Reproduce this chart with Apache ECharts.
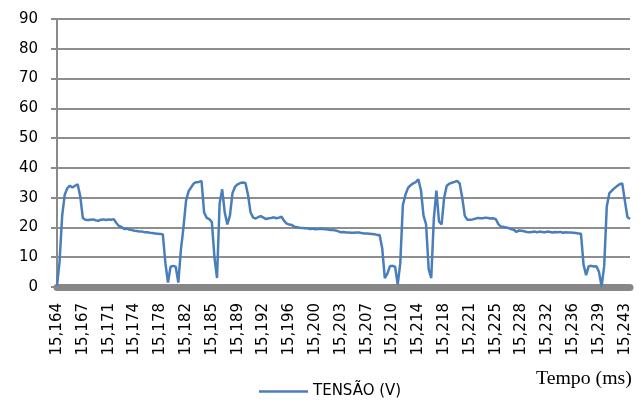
<!DOCTYPE html>
<html lang="pt">
	<head>
		<meta charset="utf-8">
		<title>Tensão</title>
		<style type="text/css">
			html,body{margin:0;padding:0;background:#fff;}
			#echarts{width:641px;height:403px;}
		</style>
	</head>
	<body>
		<div id="echarts"></div>
		<script src="https://cdn.jsdelivr.net/npm/echarts/dist/echarts.min.js" type="text/javascript" charset="utf-8"></script>
		<script type="text/javascript">
// rótulos do eixo x (um a cada 10 amostras)
var tickLabels = ['15,164','15,167','15,171','15,174','15,178','15,182','15,185','15,189','15,192','15,196','15,200',
	'15,203','15,207','15,210','15,214','15,218','15,221','15,225','15,228','15,232','15,236','15,239','15,243'];

// TENSÃO (V)
var tensao = [
	0.5, 8.5, 24, 31, 33.2, 34, 33.4, 34, 34.5, 30.5,
	23.2, 22.6, 22.5, 22.6, 22.7, 22.4, 22.2, 22.6, 22.7, 22.5,
	22.7, 22.6, 22.8, 21.5, 20.5, 20.2, 19.5, 19.6, 19.3, 19.1,
	18.9, 18.8, 18.6, 18.6, 18.4, 18.4, 18.2, 18.1, 18.0, 17.9,
	17.8, 17.7, 8, 1.5, 6.8, 7.1, 6.8, 1.5, 12.5, 20,
	29, 32.2, 33.5, 34.8, 35.2, 35.3, 35.6, 25, 23.2, 22.8,
	21.8, 10, 3, 28, 32.8, 25, 21, 24, 31.6, 33.7,
	34.5, 34.9, 35.1, 34.9, 31, 25, 23.3, 23, 23.5, 23.8,
	23.3, 22.8, 23.1, 23.2, 23.4, 23.1, 23.3, 23.6, 22.2, 21.3,
	21.0, 20.8, 20.2, 20.1, 19.9, 19.8, 19.7, 19.7, 19.5, 19.6,
	19.4, 19.5, 19.6, 19.5, 19.4, 19.3, 19.1, 19.1, 19.0, 18.7,
	18.4, 18.5, 18.3, 18.3, 18.2, 18.2, 18.3, 18.3, 18.1, 18.0,
	18.0, 17.9, 17.8, 17.7, 17.5, 17.5, 13, 3, 4.5, 7,
	7.1, 6.8, 0.8, 8, 27.5, 31, 33.3, 34.2, 34.8, 35.2,
	36.2, 32.5, 24, 21, 6, 3, 23, 32.4, 22, 21,
	30, 34, 34.7, 35, 35.3, 35.6, 34.8, 30, 23.9, 22.6,
	22.6, 22.7, 22.9, 23.2, 23.1, 23.1, 23.3, 23.2, 23.0, 23.1,
	22.8, 21.1, 20.3, 20.2, 20.0, 19.8, 19.4, 19.2, 18.5, 19.0,
	18.9, 18.7, 18.5, 18.4, 18.5, 18.6, 18.4, 18.6, 18.5, 18.4,
	18.6, 18.5, 18.3, 18.5, 18.4, 18.5, 18.2, 18.4, 18.3, 18.3,
	18.2, 18.1, 18.0, 17.9, 7.5, 4, 7, 7.1, 6.9, 7.0,
	5, 0.2, 7, 27, 31.5, 32.4, 33.2, 33.9, 34.5, 34.8,
	29, 23.5, 22.8
];

var yMin = 0, yMax = 90, yStep = 10;

var categories = tensao.map(function (v, i) { return i; });

var myChart = echarts.init(document.getElementById('echarts'));

myChart.setOption({
	animation: false,
	grid: {left: 57, right: 11, top: 19, bottom: 116, containLabel: false},
	title: {
		text: 'Tempo (ms)',
		left: 536,
		top: 369,
		padding: 0,
		textStyle: {fontFamily: 'Liberation Serif', fontSize: 19.8, fontWeight: 'normal', color: '#000'}
	},
	legend: {
		data: ['TENSÃO (V)'],
		icon: 'rect',
		left: 259,
		top: 384,
		padding: 0,
		itemWidth: 49,
		itemHeight: 2.5,
		itemGap: 5,
		textStyle: {fontFamily: 'DejaVu Sans', fontSize: 15, color: '#000'}
	},
	xAxis: {
		type: 'category',
		data: categories,
		boundaryGap: false,
		offset: 3,
		axisLine: {lineStyle: {color: '#878787', width: 7}},
		axisTick: {show: false},
		axisLabel: {
			interval: 9,
			rotate: 90,
			margin: 13,
			fontFamily: 'DejaVu Sans',
			fontSize: 15,
			color: '#000',
			formatter: function (v, idx) { return tickLabels[idx / 10] || ''; }
		},
		splitLine: {show: false}
	},
	yAxis: {
		type: 'value',
		min: yMin,
		max: yMax,
		interval: yStep,
		axisLine: {show: true, lineStyle: {color: '#8a8a8a', width: 2}},
		axisTick: {show: true, length: 6, lineStyle: {color: '#8a8a8a', width: 2}},
		axisLabel: {margin: 19, fontFamily: 'DejaVu Sans', fontSize: 15, color: '#000'},
		splitLine: {lineStyle: {color: '#8e8e8e', width: 2}}
	},
	series: [{
		name: 'TENSÃO (V)',
		type: 'line',
		data: tensao,
		symbol: 'none',
		lineStyle: {color: '#4a7ebb', width: 2.5},
		itemStyle: {color: '#4a7ebb'}
	}]
});
		</script>
	</body>
</html>
